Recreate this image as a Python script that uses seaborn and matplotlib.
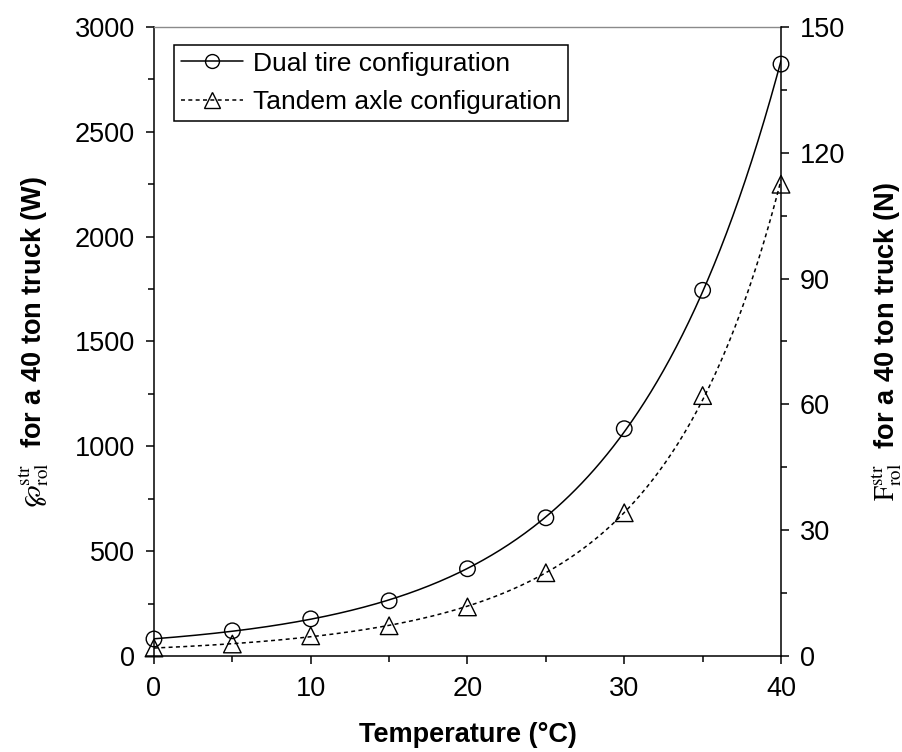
import numpy as np
import pandas as pd
import matplotlib
matplotlib.use('Agg')
import matplotlib.pyplot as plt
import seaborn as sns
from matplotlib.lines import Line2D
from matplotlib.ticker import MultipleLocator

# ── Data ──────────────────────────────────────────────────────
temperature = [0, 5, 10, 15, 20, 25, 30, 35, 40]
dual_tire = [81, 120, 177, 263, 416, 659, 1084, 1744, 2823]
tandem_axle = [38, 57, 96, 144, 234, 397, 683, 1242, 2250]
series_names = ['Dual tire configuration', 'Tandem axle configuration']

sns.set_theme(style='ticks')
plt.rcParams['font.family'] = ['Liberation Sans', 'DejaVu Sans']
plt.rcParams['mathtext.fontset'] = 'stix'
for k in ['text.color', 'axes.labelcolor', 'xtick.color', 'ytick.color', 'axes.edgecolor']:
    plt.rcParams[k] = 'black'

FS = 19.5
DASH = (0, (2.6, 2.2))

fig = plt.figure(figsize=(9.03, 7.52), dpi=100)
ax = fig.add_axes([0.1705, 0.1277, 0.6944, 0.8364])

# smooth curves through the points (fit in log space, like the original spline)
t_fine = np.linspace(0, 40, 300)
curves = []
for name, vals in zip(series_names, [dual_tire, tandem_axle]):
    coef = np.polyfit(temperature, np.log(vals), 3)
    curves.append(pd.DataFrame({'T': t_fine, 'P': np.exp(np.polyval(coef, t_fine)), 'series': name}))
curve_df = pd.concat(curves)
pts_df = pd.DataFrame({
    'T': temperature * 2,
    'P': dual_tire + tandem_axle,
    'series': [series_names[0]] * len(temperature) + [series_names[1]] * len(temperature),
})

sns.lineplot(data=curve_df, x='T', y='P', style='series',
             dashes={series_names[0]: '', series_names[1]: DASH[1]},
             color='black', linewidth=1.1, ax=ax, legend=False)
sns.scatterplot(data=pts_df[pts_df.series == series_names[0]], x='T', y='P',
                marker='o', s=125, facecolor='none', edgecolor='black',
                linewidth=1.0, ax=ax, legend=False, zorder=3, clip_on=False)
sns.scatterplot(data=pts_df[pts_df.series == series_names[1]], x='T', y='P',
                marker='^', s=160, facecolor='none', edgecolor='black',
                linewidth=1.0, ax=ax, legend=False, zorder=3, clip_on=False)

ax.set_xlim(0, 40)
ax.set_ylim(0, 3000)
ax.xaxis.set_major_locator(MultipleLocator(10))
ax.xaxis.set_minor_locator(MultipleLocator(5))
ax.yaxis.set_major_locator(MultipleLocator(500))
ax.yaxis.set_minor_locator(MultipleLocator(250))
ax.tick_params(which='major', direction='out', length=5.5, width=1.1,
               labelsize=FS, color='black')
ax.tick_params(axis='x', which='major', pad=9)
ax.tick_params(axis='y', which='major', pad=8)
ax.tick_params(which='minor', direction='out', length=4.5, width=1.1, color='black')
for s in ['left', 'bottom']:
    ax.spines[s].set_linewidth(1.1)
ax.spines['top'].set_color('#8a8a8a')
ax.spines['top'].set_linewidth(1.0)
ax.spines['right'].set_visible(False)

ax.set_xlabel('Temperature (°C)', fontsize=FS, fontweight='bold')
ax.xaxis.set_label_coords(0.5, -0.1256)
ax.xaxis.label.set_verticalalignment('center')
ax.set_ylabel(r'$\wp^{\mathrm{str}}_{\mathrm{rol}}$  for a 40 ton truck (W)',
              fontsize=FS, fontweight='bold')
ax.yaxis.set_label_coords(-0.19, 0.5)
ax.yaxis.label.set_verticalalignment('center')

# right axis: rolling force
ax2 = ax.twinx()
ax2.set_ylim(0, 150)
ax2.yaxis.set_major_locator(MultipleLocator(30))
ax2.yaxis.set_minor_locator(MultipleLocator(15))
ax2.tick_params(which='major', direction='out', length=5.5, width=1.1,
                labelsize=FS, color='black', pad=8)
ax2.tick_params(which='minor', direction='out', length=4.5, width=1.1, color='black')
for s in ['left', 'top', 'bottom']:
    ax2.spines[s].set_visible(False)
ax2.spines['right'].set_linewidth(1.1)
ax2.set_ylabel(r'$\mathrm{F}^{\mathrm{str}}_{\mathrm{rol}}$  for a 40 ton truck (N)',
               fontsize=FS, fontweight='bold')
ax2.yaxis.set_label_coords(1.169, 0.5)
ax2.yaxis.label.set_verticalalignment('center')

handles = [
    Line2D([], [], color='black', linewidth=1.1, marker='o', markersize=10,
           markerfacecolor='none', markeredgecolor='black'),
    Line2D([], [], color='black', linewidth=1.1, linestyle=DASH, marker='^',
           markersize=12, markerfacecolor='none', markeredgecolor='black'),
]
leg = ax.legend(handles, series_names, loc='upper left', bbox_to_anchor=(0.0319, 0.9714),
                borderaxespad=0, fontsize=19, frameon=True, fancybox=False,
                edgecolor='black', framealpha=1, borderpad=0.25, handlelength=2.35,
                handletextpad=0.4, labelspacing=0.55, numpoints=1)
leg.get_frame().set_linewidth(1.1)

fig.savefig('out.png', dpi=100)
